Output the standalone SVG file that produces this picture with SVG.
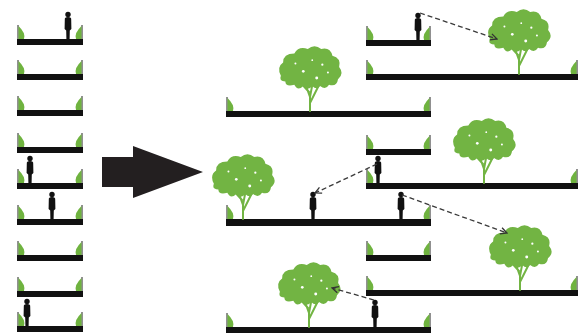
<svg xmlns="http://www.w3.org/2000/svg" width="579" height="336" viewBox="0 0 579 336">
  <style>
    .slab { fill: #111; }
    .leaf { fill: #6fb33f; }
    .stem { stroke: #222; stroke-width: 1; }
    .person { fill: #111; }
    .crown { fill: #72b443; }
    .trunk { fill: none; stroke: #72b443; stroke-width: 2; stroke-linecap: round; stroke-linejoin: round; }
    .sight { fill: none; stroke: #3a3a3a; stroke-width: 1.3; stroke-dasharray: 5 3; marker-end: url(#openHead); }
  </style>
  <defs>
    <marker id="openHead" viewBox="0 0 10 10" refX="9" refY="5" markerWidth="8" markerHeight="8" orient="auto" markerUnits="userSpaceOnUse">
      <path d="M1,1 L9,5 L1,9" fill="none" stroke="#333" stroke-width="1.6"/>
    </marker>
    <!-- low shrub at the left end of a slab -->
    <g id="plantL">
      <line class="stem" x1="1" y1="-14" x2="1" y2="0"/>
      <path class="leaf" d="M1.5,0 L1.5,-13 Q9,-6 7,0 Z"/>
    </g>
    <!-- low shrub at the right end of a slab -->
    <g id="plantR">
      <line class="stem" x1="-1" y1="-14" x2="-1" y2="0"/>
      <path class="leaf" d="M-1.5,0 L-1.5,-13 Q-9,-6 -7,0 Z"/>
    </g>
    <!-- standing figure, feet at origin -->
    <g id="person">
      <circle class="person" cx="0" cy="-24.5" r="2.7"/>
      <path class="person" d="M-3.2,-19.5 Q-3.6,-22 0,-22 Q3.6,-22 3.2,-19.5 L3.4,-10 L1.8,-8.5 L1.6,0 L-1.6,0 L-1.8,-8.5 L-3.4,-10 Z"/>
    </g>
    <!-- tree, trunk base at origin -->
    <g id="tree">
      <path class="trunk" d="M0,0 L0,-14 L-5,-28 M0,-14 L3,-30 M0.5,-9 L7,-22 L11,-30 M-1,-19 L-10,-29"/>
      <g transform="translate(0,-43) scale(1.12) translate(0,43)">
        <path class="crown" d="M-26,-36 Q-30,-44 -24,-48 Q-24,-56 -14,-56 Q-10,-63 -2,-60 Q4,-65 10,-60 Q18,-62 20,-54 Q28,-52 26,-44 Q31,-38 25,-33 Q24,-26 17,-28 Q14,-23 9,-27 Q6,-23 2,-27 Q-2,-22 -6,-27 Q-11,-22 -14,-28 Q-22,-26 -22,-31 Q-28,-31 -26,-36 Z"/>
        <g fill="#fff">
          <circle cx="-6" cy="-40" r="1.2"/>
          <circle cx="11" cy="-46" r="1"/>
          <circle cx="6" cy="-34" r="1.3"/>
          <circle cx="16" cy="-39" r="0.9"/>
          <circle cx="-13" cy="-47" r="0.9"/>
          <circle cx="2" cy="-50" r="0.8"/>
        </g>
      </g>
    </g>
  </defs>

  <!-- existing row of identical sections -->
  <g id="existing">
    <g id="e1"><rect class="slab" x="17" y="39" width="66" height="6"/><use href="#plantL" x="17" y="39"/><use href="#plantR" x="83" y="39"/><use href="#person" x="68" y="39"/></g>
    <g id="e2"><rect class="slab" x="17" y="74" width="66" height="6"/><use href="#plantL" x="17" y="74"/><use href="#plantR" x="83" y="74"/></g>
    <g id="e3"><rect class="slab" x="17" y="110" width="66" height="6"/><use href="#plantL" x="17" y="110"/><use href="#plantR" x="83" y="110"/></g>
    <g id="e4"><rect class="slab" x="17" y="147" width="66" height="6"/><use href="#plantL" x="17" y="147"/><use href="#plantR" x="83" y="147"/></g>
    <g id="e5"><rect class="slab" x="17" y="183" width="66" height="6"/><use href="#plantL" x="17" y="183"/><use href="#plantR" x="83" y="183"/><use href="#person" x="30" y="183"/></g>
    <g id="e6"><rect class="slab" x="17" y="219" width="66" height="6"/><use href="#plantL" x="17" y="219"/><use href="#plantR" x="83" y="219"/><use href="#person" x="52" y="219"/></g>
    <g id="e7"><rect class="slab" x="17" y="255" width="66" height="6"/><use href="#plantL" x="17" y="255"/><use href="#plantR" x="83" y="255"/></g>
    <g id="e8"><rect class="slab" x="17" y="291" width="66" height="6"/><use href="#plantL" x="17" y="291"/><use href="#plantR" x="83" y="291"/></g>
    <g id="e9"><rect class="slab" x="17" y="326" width="66" height="6"/><use href="#plantL" x="17" y="326"/><use href="#plantR" x="83" y="326"/><use href="#person" x="27" y="326"/></g>
  </g>

  <!-- transformation arrow -->
  <g id="bigArrow">
    <polygon points="102,157 133,157 133,146 203,172 133,198 133,187 102,187" fill="#231f20"/>
  </g>

  <!-- proposed staggered sections -->
  <g id="proposed">
    <g id="pA"><rect class="slab" x="366" y="40" width="65" height="6"/><use href="#plantL" x="366" y="40"/><use href="#plantR" x="431" y="40"/><use href="#person" x="418" y="40"/></g>
    <g id="pB"><rect class="slab" x="366" y="74" width="212" height="6"/><use href="#plantL" x="366" y="74"/><use href="#plantR" x="578" y="74"/><use href="#tree" x="519" y="74"/></g>
    <g id="pC"><rect class="slab" x="226" y="111" width="205" height="6"/><use href="#plantL" x="226" y="111"/><use href="#plantR" x="431" y="111"/><use href="#tree" x="310" y="111"/></g>
    <g id="pD"><rect class="slab" x="366" y="149" width="65" height="6"/><use href="#plantL" x="366" y="149"/><use href="#plantR" x="431" y="149"/></g>
    <g id="pE"><rect class="slab" x="366" y="183" width="212" height="6"/><use href="#plantL" x="366" y="183"/><use href="#plantR" x="578" y="183"/><use href="#tree" x="484" y="183"/><use href="#person" x="378" y="183"/></g>
    <g id="pF"><rect class="slab" x="226" y="219" width="205" height="7"/><use href="#plantL" x="226" y="219"/><use href="#plantR" x="431" y="219"/><use href="#tree" x="243" y="219"/><use href="#person" x="313" y="219"/><use href="#person" x="401" y="219"/></g>
    <g id="pG"><rect class="slab" x="366" y="255" width="65" height="6"/><use href="#plantL" x="366" y="255"/><use href="#plantR" x="431" y="255"/></g>
    <g id="pH"><rect class="slab" x="366" y="290" width="212" height="6"/><use href="#plantL" x="366" y="290"/><use href="#plantR" x="578" y="290"/><use href="#tree" x="520" y="290"/></g>
    <g id="pI"><rect class="slab" x="226" y="327" width="205" height="6"/><use href="#plantL" x="226" y="327"/><use href="#plantR" x="431" y="327"/><use href="#tree" x="309" y="327"/><use href="#person" x="375" y="327"/></g>
  </g>

  <!-- sight lines -->
  <g id="connectors">
    <path class="sight" d="M420,13 L497,39"/>
    <path class="sight" d="M377,164 L315,193"/>
    <path class="sight" d="M402,195 L507,233"/>
    <path class="sight" d="M374,300 L332,288"/>
  </g>
</svg>
